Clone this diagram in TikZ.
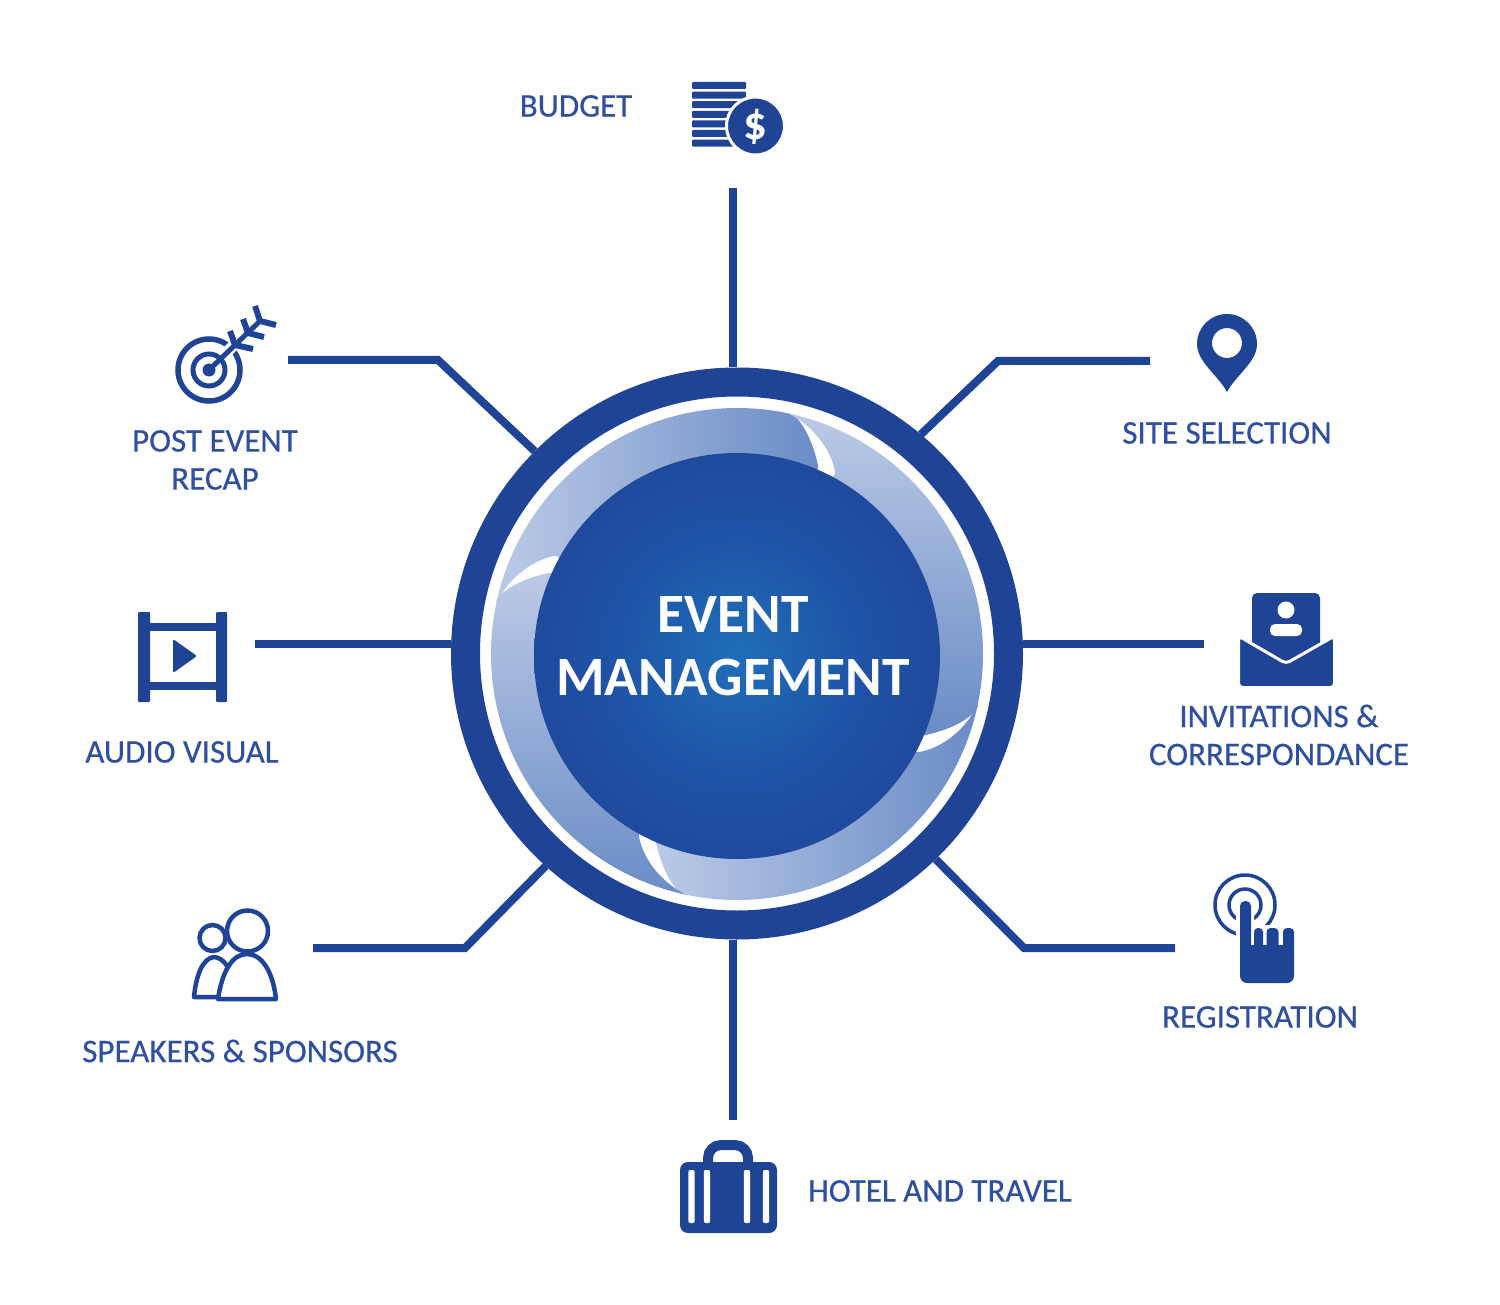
\documentclass[tikz,border=0pt]{standalone}
\usepackage{fontspec}
\setmainfont{Carlito}
\newfontfamily\lblfont{Carlito}[FakeBold=0.5]
\definecolor{ringblue}{HTML}{1F4496}
\definecolor{textblue}{HTML}{2F4F9F}
\definecolor{swirllight}{HTML}{BBCAE6}
\definecolor{swirldark}{HTML}{6A8CC6}
\definecolor{discmid}{HTML}{1F6EB8}
\definecolor{disctwo}{HTML}{1F52A6}
\pgfdeclareradialshading{discshade}{\pgfpoint{0bp}{0bp}}{color(0bp)=(discmid); color(16bp)=(disctwo); color(31bp)=(ringblue); color(50bp)=(ringblue)}

\begin{document}
\begin{tikzpicture}
    [x=1pt,y=-1pt,
link/.style={draw=ringblue,line width=8pt},
lbl/.style={text=textblue,font=\lblfont\fontsize{33}{38}\selectfont,align=center,inner sep=0pt},
hubring/.style={circle,draw=ringblue,line width=29pt,minimum size=543pt,inner sep=0pt},
swirlh/.style={left color=swirllight,right color=swirldark},
swirlv/.style={top color=swirllight,bottom color=swirldark},
iconline/.style={draw=ringblue,line width=5.5pt},
iconfill/.style={fill=ringblue}
]
  \fill[white] (0,0) rectangle (1500,1305);
  \useasboundingbox (0,0) rectangle (1500,1305);

  \coordinate (budgettip) at (733,188);
  \coordinate (sitetip) at (1150,361);
  \coordinate (invitetip) at (1204,644);
  \coordinate (registertip) at (1175,948);
  \coordinate (hoteltip) at (733,1120);
  \coordinate (speakertip) at (313,948);
  \coordinate (audiotip) at (255,644);
  \coordinate (recaptip) at (288,360);

  \node[hubring] (hub) at (737,653.5) {};
  \foreach \ang/\shd in {0/swirlh,90/swirlv,180/swirlh,270/swirlv} {
    \begin{scope}[shift={(737,654)},x=1pt,y=1pt,rotate=-\ang]
      \shade[\shd] (168:246) arc (168:77:246)
        .. controls (74:241) and (70:224) .. (66.5:204) -- (66.5:170) arc (66.5:151.5:170) -- (151.5:206)
        .. controls (155:224) and (161:240) .. (168:246) -- cycle;
    \end{scope}
  }
  \shade[shading=discshade] (737,656) circle (203);
  \node[text=white,font=\fontsize{55.5}{63}\selectfont\bfseries,align=center,inner sep=0pt] (hubtext) at (733,646) {EVENT\\MANAGEMENT};

  \draw[link] (budgettip) -- (budgettip |- hub.north);
  \draw[link] (sitetip) -- ++(-152,0) -- (hub.50);
  \draw[link] (invitetip) -- (invitetip -| hub.east);
  \draw[link] (registertip) -- ++(-151,0) -- (hub.-46);
  \draw[link] (hoteltip) -- (hoteltip |- hub.south);
  \draw[link] (speakertip) -- ++(152,0) -- (hub.228);
  \draw[link] (audiotip) -- (audiotip -| hub.west);
  \draw[link] (recaptip) -- ++(150,0) -- (hub.135);

  \node[lbl] (budget) at (576,106) {BUDGET};
  \node[lbl] (site) at (1227,433) {SITE SELECTION};
  \node[lbl] (invite) at (1279,735) {INVITATIONS \&\\CORRESPONDANCE};
  \node[lbl] (register) at (1260,1017) {REGISTRATION};
  \node[lbl] (hotel) at (940,1191) {HOTEL AND TRAVEL};
  \node[lbl] (speaker) at (240,1051) {SPEAKERS \& SPONSORS};
  \node[lbl] (audio) at (182,752) {AUDIO VISUAL};
  \node[lbl] (recap) at (215,460) {POST EVENT\\RECAP};

  \foreach \yy in {82,91.6,...,145}
    \fill[iconfill,rounded corners=1pt] (692,\yy) rectangle (746,\yy+7);
  \fill[iconfill,draw=white,line width=3pt] (755.5,126) circle (29);
  \node[text=white,font=\fontsize{47}{47}\selectfont\bfseries,inner sep=0pt] (dollar) at (755.5,127) {\$};

  \path[iconfill,even odd rule] (1227,392) .. controls (1218,375) and (1197,362) .. (1197,344)
    arc (180:360:30) .. controls (1257,362) and (1236,375) .. (1227,392) -- cycle
    (1242,343) arc (0:360:15);

  \fill[iconfill,rounded corners=5pt] (1252,593) rectangle (1320,665);
  \fill[white] (1286,610) circle (8.5);
  \fill[white,rounded corners=5pt] (1270,624) rectangle (1302,636);
  \path[iconfill,draw=white,line width=3pt,rounded corners=4pt] (1238.5,636) -- (1286,663.5) -- (1334.5,636) -- (1334.5,687.5) -- (1238.5,687.5) -- cycle;

  \draw[iconline,line width=3.5pt] (1245,905) circle (30);
  \draw[iconline,line width=3.5pt] (1245,905) circle (16);
  \fill[white,rounded corners=6pt] (1236,896) rectangle (1254,945);
  \fill[white] (1254,925) rectangle (1298,945);
  \fill[iconfill,rounded corners=5pt] (1240,901) rectangle (1251,955);
  \foreach \xx/\barw in {1254/9,1266.5/12,1283/11}
    \fill[iconfill,rounded corners=4pt] (\xx,928) rectangle (\xx+\barw,955);
  \fill[iconfill,rounded corners=7pt] (1240,945) -- (1294,945) -- (1294,983) -- (1240,983) -- cycle;

  \draw[iconline,line width=4.5pt] (212.5,938) circle (13);
  \draw[iconline,line width=4.5pt,line join=round] (194,997) .. controls (196,975) and (203,958) .. (214,957) .. controls (224,958) and (229,968) .. (231,975) -- (222,997) -- cycle;
  \draw[iconline,line width=4.5pt,fill=white] (247.5,931) circle (20.5);
  \draw[iconline,line width=4.5pt,fill=white,line join=round] (218,999) .. controls (222,972) and (232,954) .. (247,954) .. controls (262,954) and (273,972) .. (276,999) -- cycle;

  \draw[draw=ringblue,line width=10pt,rounded corners=13pt] (708,1168) -- (708,1145) -- (748,1145) -- (748,1168);
  \fill[iconfill,rounded corners=8pt] (680,1162) rectangle (777,1233);
  \foreach \xx in {691.5,707,747,766}
    \fill[white,rounded corners=2pt] (\xx-3.2,1170) rectangle (\xx+3.2,1223);

  \draw[iconline] (209,370) circle (31);
  \draw[iconline,line width=5pt] (209,370) circle (16);
  \fill[iconfill] (209,370) circle (6.5);
  \draw[draw=white,line width=11pt] (222,357) -- (244,335);
  \draw[iconline,line width=5pt] (209,370) -- (260,321);
  \draw[iconline,line width=6pt] (230,331) -- (235,345) -- (253,349);
  \draw[iconline,line width=6pt] (243,319) -- (248,333) -- (264,337);
  \draw[iconline,line width=6pt] (255,306) -- (260,321) -- (276,325);

  \fill[iconfill,rounded corners=1pt] (138,612) rectangle (150,702);
  \fill[iconfill,rounded corners=1pt] (216,612) rectangle (227,702);
  \fill[iconfill] (144,623) rectangle (222,631);
  \fill[iconfill] (144,682) rectangle (222,690);
  \fill[iconfill,rounded corners=2pt] (173,639) -- (197,656) -- (173,673) -- cycle;
\end{tikzpicture}
\end{document}
